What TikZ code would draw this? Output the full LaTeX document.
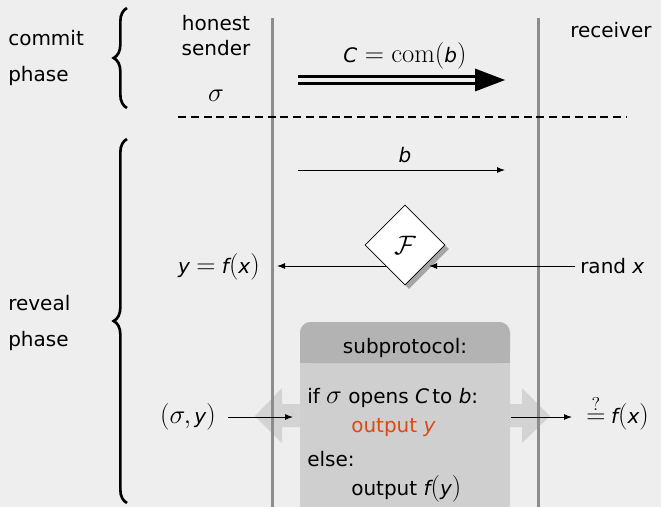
\RequirePackage{fix-cm}
\documentclass[tikz,border=0pt]{standalone}
\usepackage[no-math]{fontspec}
\setmainfont{DejaVu Sans}
\DeclareMathSizes{15}{20}{14}{10}
\usetikzlibrary{arrows.meta,shapes.geometric,decorations.pathreplacing,shadows}
\definecolor{bg}{HTML}{EEEEEE}
\definecolor{lifeline}{HTML}{8C8C8C}
\definecolor{boxbody}{HTML}{CFCFCF}
\definecolor{boxhead}{HTML}{B3B3B3}
\definecolor{bigarrow}{HTML}{D3D3D3}
\definecolor{hl}{HTML}{DD4814}
\newcommand\mv[1]{\mbox{\itshape #1}}
\newcommand\fsz{\fontsize{15}{18}\selectfont}
\begin{document}
\begin{tikzpicture}[x=0.75pt,y=-0.75pt,
  every node/.style={font=\fsz, inner sep=0pt, text=black},
  lbl/.style={anchor=base west},
  lblc/.style={anchor=base},
  lifestyle/.style={draw=lifeline, line width=2.25pt},
  msg/.style={line width=0.75pt, -{Latex[length=6pt,width=4.5pt]}},
  phasebrace/.style={decorate, decoration={brace, amplitude=10pt}, line width=2pt},
  bigarr/.style={fill=bigarrow},
  func/.style={shape=diamond, draw=black, line width=0.6pt, fill=white, minimum width=60pt, minimum height=60pt, inner sep=0pt,
    drop shadow={shadow xshift=3pt, shadow yshift=-3pt, fill=black!35, opacity=1}}
]
\fill[bg] (0,0) rectangle (661,507);
\useasboundingbox (0,0) rectangle (661,507);
\clip (0,0) rectangle (661,507);

% phase labels and braces
\node[lbl] (commit) at (8,45) {commit};
\node[lbl] (phase1) at (8,81) {phase};
\node[lbl] (reveal) at (8,310) {reveal};
\node[lbl] (phase2) at (8,346) {phase};
\coordinate (b1t) at (127,8);
\coordinate (b1b) at (127,108);
\coordinate (b2t) at (127,139);
\coordinate (b2b) at (127,503);
\draw[phasebrace] (b1b) -- (b1t);
\draw[phasebrace] (b2b) -- (b2t);

% parties
\node[lblc] (honest) at (216,30) {honest};
\node[lblc] (sender) at (216,55) {sender};
\node[lblc] (sigma) at (216,101) {$\sigma$};
\node[lbl] (receiver) at (570,37) {receiver};

% big grey arrows of the subprotocol
\fill[bigarr] (300,404) -- (282,404) -- (282,388) -- (255,416) -- (282,443) -- (282,427) -- (300,427) -- cycle;
\fill[bigarr] (509,404) -- (522,404) -- (522,388) -- (550,416) -- (522,443) -- (522,427) -- (509,427) -- cycle;

% lifelines
\coordinate (ls) at (272,18);
\coordinate (le) at (272,507);
\coordinate (rs) at (538,18);
\coordinate (re) at (538,507);
\draw[lifestyle] (ls) -- (le);
\draw[lifestyle] (rs) -- (re);

% commit phase separator
\coordinate (d1) at (178,117);
\coordinate (d2) at (627,117);
\draw[line width=1.2pt, dash pattern=on 6pt off 3.6pt] (d1) -- (d2);

% commitment message
\coordinate (c1) at (298,80);
\coordinate (c2) at (478,80);
\coordinate (c3) at (505,80);
\draw[line width=1.9pt] ([yshift=2.7pt]c1) -- ([yshift=2.7pt]c2);
\draw[line width=1.9pt] ([yshift=-2.7pt]c1) -- ([yshift=-2.7pt]c2);
\fill (c3) -- ([yshift=8.6pt]c3 -| 475,0) -- ([yshift=-8.6pt]c3 -| 475,0) -- cycle;
\node[lblc] (comlbl) at (405,62) {$\mv{C} = \mathrm{com}(\mv{b})$};

% opening message b
\coordinate (m1) at (298,170);
\coordinate (m2) at (505,170);
\draw[msg] (m1) -- (m2);
\node[lblc] (blbl) at (405,162) {\mv{b}};

% functionality
\node[func] (F) at (405,245) {$\mathcal{F}$};
\node[lbl] (randx) at (580,273) {rand \mv{x}};
\node[anchor=base east] (yfx) at (260,273) {\mv{y} $=$ \mv{f}$($\mv{x}$)$};
\coordinate (rin) at (575,266);
\coordinate (fin) at (429,266);
\coordinate (fout) at (386,266);
\coordinate (yin) at (277,266);
\draw[msg] (rin) -- (fin);
\draw[msg] (fout) -- (yin);

% subprotocol box
\fill[boxbody, rounded corners=8pt] (300,322) rectangle (510,515);
\fill[boxhead, rounded corners=8pt] (300,322) rectangle (510,363);
\fill[boxhead] (300,350) rectangle (510,363);
\node[lblc] (sub) at (405,353) {subprotocol:};
\node[lbl] (l1) at (307,403) {if $\sigma$ opens \mv{C}\,to \mv{b}:};
\node[lbl, text=hl] (l2) at (351,432) {output \mv{y}};
\node[lbl] (l3) at (307,466) {else:};
\node[lbl] (l4) at (351,495) {output \mv{f}$($\mv{y}$)$};

% inputs and outputs
\node[anchor=base east] (sy) at (216,423) {$(\sigma,$\,\mv{y}$)$};
\node[lbl] (chk) at (586,423) {$\stackrel{?}{=}$\;\mv{f}$($\mv{x}$)$};
\coordinate (sy1) at (228,417);
\coordinate (sy2) at (293,417);
\coordinate (o1) at (511,417);
\coordinate (o2) at (572,417);
\draw[msg] (sy1) -- (sy2);
\draw[msg] (o1) -- (o2);
\end{tikzpicture}
\end{document}
